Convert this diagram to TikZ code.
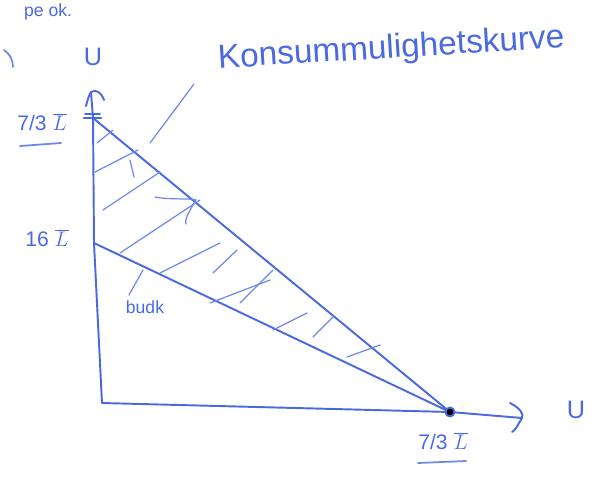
\documentclass[tikz,border=0pt]{standalone}
\usepackage{fontspec}
\setmainfont{Liberation Sans}
\definecolor{pen}{RGB}{75,105,225}
\begin{document}
\begin{tikzpicture}[x=0.02cm,y=-0.02cm,
  pen/.style={draw=pen,line width=1.1pt,line cap=round,line join=round},
  hatch/.style={draw=pen!80,line width=0.7pt,line cap=round},
  lbl/.style={text=pen,inner sep=1pt,font=\large}]
\useasboundingbox (0,0) rectangle (592,491);
% key points
\coordinate (Ytop) at (91,92);
\coordinate (A) at (93,118);
\coordinate (B) at (94,243);
\coordinate (O) at (102,403);
\coordinate (C) at (450,412);
\coordinate (Xend) at (522,418);
% axes
\draw[pen] (Ytop) -- (A) -- (B) -- (O) -- (C) -- (Xend);
\draw[pen] (510,403) .. controls (520,408) and (524,414) .. (Xend) .. controls (518,424) and (516,430) .. (512,432);
\draw[pen] (86,106) .. controls (88,98) and (90,93) .. (Ytop) .. controls (96,89) and (101,92) .. (104,100);
\draw[pen,line width=1.6pt] (84,118) -- (101,118);
\draw[pen] (85,114) -- (100,114);
% lines
\draw[pen] (A) -- (C);
\draw[pen] (B) -- (C);
\fill[pen] (C) circle (4.5);
% hatching
\foreach \a/\b in {{(97,143)/(113,130)},{(95,172)/(138,150)},{(103,210)/(160,172)},{(120,253)/(200,200)},{(160,273)/(220,243)},{(213,273)/(237,250)},{(210,303)/(270,280)},{(240,303)/(273,270)},{(273,330)/(307,313)},{(313,337)/(333,317)},{(347,357)/(380,345)},{(130,160)/(134,177)}}
  \draw[hatch] \a -- \b;
\draw[hatch] (155,197) .. controls (170,200) and (190,198) .. (196,200) .. controls (190,210) and (184,220) .. (186,224);
% pointers
\draw[hatch] (150,143) -- (194,84);
\draw[hatch] (143,270) -- (129,295);
% labels
\node[lbl,font=\Large] (U1) at (93,57) {U};
\node[lbl,font=\Large] (U2) at (576,410) {U};
\node[lbl] (L1) at (42,122) {7/3 $\overline{L}$};
\draw[hatch,line width=1pt] (20,146) -- (61,143);
\node[lbl] (L2) at (47,238) {16 $\overline{L}$};
\node[lbl] (L3) at (443,441) {7/3 $\overline{L}$};
\draw[hatch,line width=1pt] (418,463) -- (466,461);
\node[lbl,font=\normalsize] (bud) at (145,307) {budk};
\node[lbl,anchor=west,rotate=3.5,font=\fontsize{19}{22}\selectfont] (kmk) at (216,60) {Konsummulighetskurve};
\node[lbl,anchor=north west,font=\normalsize] (top) at (22,2) {pe ok.};
\draw[hatch,line width=1pt] (4,50) .. controls (10,54) and (13,60) .. (13,67);
\end{tikzpicture}
\end{document}
